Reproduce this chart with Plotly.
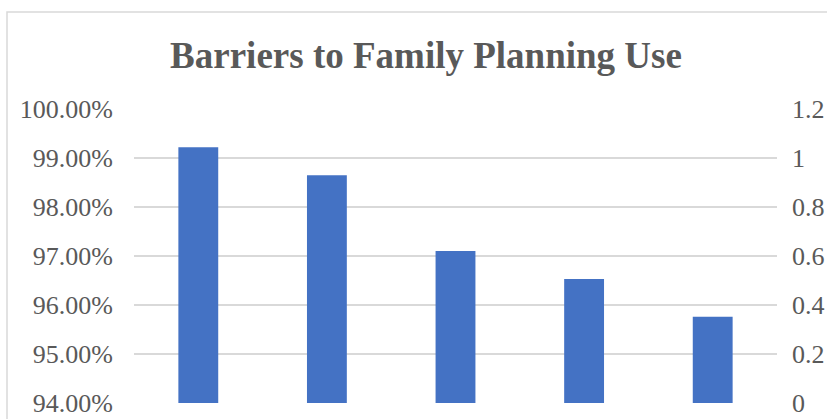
import plotly.graph_objects as go

categories = ["Barrier 1", "Barrier 2", "Barrier 3", "Barrier 4", "Barrier 5"]
values = [0.9922, 0.9865, 0.9710, 0.9653, 0.9576]
left_ticks = [0.94, 0.95, 0.96, 0.97, 0.98, 0.99, 1.00]
right_ticks = [0, 0.2, 0.4, 0.6, 0.8, 1.0, 1.2]
right_labels = ["0", "0.2", "0.4", "0.6", "0.8", "1", "1.2"]

W, H = 827, 419
ml, mr, mt, mb = 134, 50, 109, 16
pw = W - ml - mr
ph = H - mt - mb

font_family = "Liberation Serif, Times New Roman, serif"
grey = "#595959"

fig = go.Figure()
fig.add_trace(go.Bar(x=categories, y=values, marker=dict(color="#4472c4", line=dict(width=0)),
                     yaxis="y", showlegend=False, hoverinfo="skip"))
fig.add_trace(go.Scatter(x=categories, y=[None] * len(categories), yaxis="y2",
                         showlegend=False, hoverinfo="skip", mode="lines"))

# chart border (cut off at right/bottom)
x0 = (7 - ml) / pw
y1 = (H - 12 - mb) / ph
fig.add_shape(type="rect", xref="paper", yref="paper", x0=x0, x1=(W + 20 - ml) / pw,
              y0=(-30 - mb) / ph, y1=y1, line=dict(color="#d9d9d9", width=1.5), layer="below")

fig.update_layout(
    width=W, height=H,
    margin=dict(l=ml, r=mr, t=mt, b=mb, autoexpand=False),
    paper_bgcolor="white", plot_bgcolor="white",
    bargap=0.69,
    title=dict(text="<b>Barriers to Family Planning Use</b>", x=426 / W, xanchor="center",
               xref="container",
               y=1 - 55 / H, yanchor="middle", yref="container",
               font=dict(family=font_family, size=37, color=grey)),
    xaxis=dict(showticklabels=False, showgrid=False, zeroline=False, showline=False, ticks="",
               automargin=False),
    yaxis=dict(range=[0.94, 1.0], tickvals=left_ticks, tickformat=".2%",
               showgrid=True, gridcolor="#d9d9d9", gridwidth=1.5, zeroline=False,
               showline=False, ticks="", ticklabelstandoff=20, automargin=False,
               tickfont=dict(family=font_family, size=26, color=grey)),
    yaxis2=dict(range=[0, 1.2], tickvals=right_ticks, ticktext=right_labels, overlaying="y",
                side="right", showgrid=False, zeroline=False, showline=False, ticks="",
                ticklabelstandoff=14, automargin=False,
                tickfont=dict(family=font_family, size=26, color=grey)),
)

fig.write_html("out.html")
